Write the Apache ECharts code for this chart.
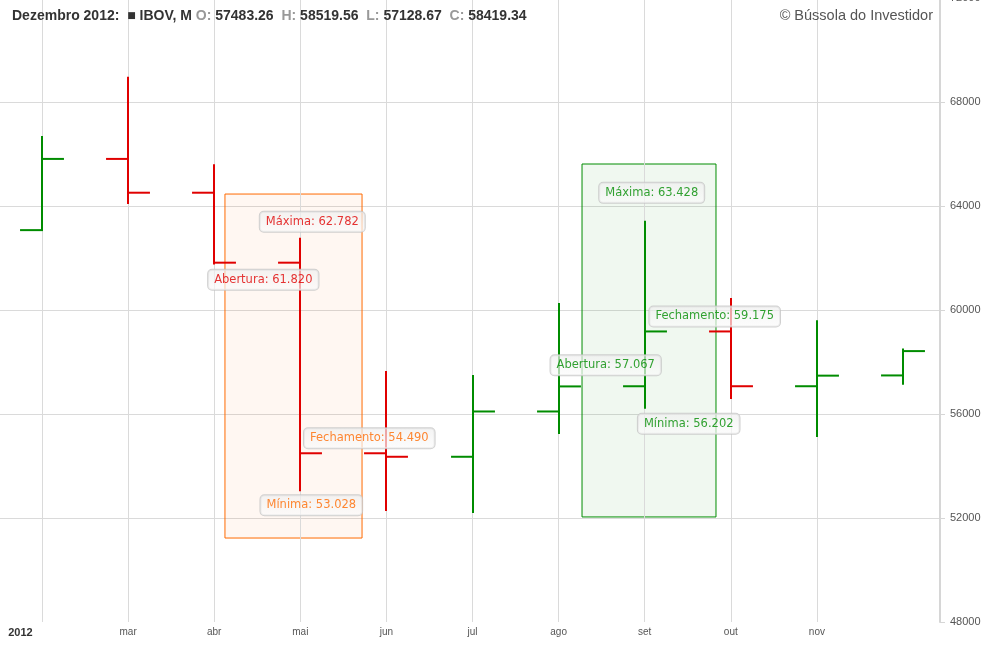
<!DOCTYPE html>
<html>
<head>
<meta charset="utf-8">
<script src="https://cdn.jsdelivr.net/npm/echarts@6/dist/echarts.min.js"></script>
<style>html,body{margin:0;padding:0;background:#fff;}#c{width:1000px;height:650px;}</style>
</head>
<body>
<div id="c"></div>
<script>
// ---- data ----
const months = ['fev','mar','abr','mai','jun','jul','ago','set','out','nov','dez'];
const openV  = [63072, 65811, 64511, 61820, 54490, 54355, 56097, 57067, 59175, 57068, 57483.26];
const highV  = [66690, 68970, 65610, 62782, 57650, 57500, 60270, 63428, 60460, 59610, 58519.56];
const lowV   = [63050, 64080, 61750, 53028, 52270, 52190, 55230, 56202, 56580, 55120, 57128.67];
const closeV = [65811, 64511, 61820, 54490, 54355, 56097, 57061, 59175, 57068, 57475, 58419.34];
const xTickValues = [-0.25, 1, 2, 3, 4, 5, 6, 7, 8, 9];
const xTickLabels = ['2012','mar','abr','mai','jun','jul','ago','set','out','nov'];
const gridXValues = [0,1,2,3,4,5,6,7,8,9];
const yTicks = [48000, 52000, 56000, 60000, 64000, 68000, 72000];
// highlight boxes: [xStart, xEnd, yLow, yHigh] in data units
const boxes = [[2.125, 3.717, 51230, 64460], [6.272, 7.828, 52040, 65615]];
// annotations: [barIndex, field, title]
const annotations = [
  [3, 'high', 'Máxima'], [3, 'open', 'Abertura'], [3, 'close', 'Fechamento'], [3, 'low', 'Mínima'],
  [7, 'high', 'Máxima'], [7, 'close', 'Fechamento'], [7, 'open', 'Abertura'], [7, 'low', 'Mínima']
];

// ---- styles ----
const GREEN = '#008c00', RED = '#e00000', ORANGE = '#ff6a00';
const annStyle = [
  {off:[12,-16], color:RED}, {off:[-37,17], color:RED}, {off:[69,-15], color:ORANGE}, {off:[11,14], color:ORANGE},
  {off:[7,-28], color:GREEN}, {off:[70,-15], color:GREEN}, {off:[-39,-21], color:GREEN}, {off:[44,15], color:GREEN}
];
const boxStyle = [
  {border: ORANGE, fill: 'rgba(255,106,0,0.05)'},
  {border: GREEN, fill: 'rgba(0,140,0,0.06)'}
];

const fields = {open: openV, high: highV, low: lowV, close: closeV};
const fmtBR = v => Math.round(v).toString().replace(/\B(?=(\d{3})+(?!\d))/g, '.');

const ohlcData = months.map((m, i) => [i, openV[i], highV[i], lowV[i], closeV[i]]);
const last = months.length - 1;

const annData = annotations.map((a, k) => {
  const v = fields[a[1]][a[0]];
  return {
    value: [a[0], v],
    label: {
      show: true, position: 'inside', offset: annStyle[k].off, color: annStyle[k].color,
      formatter: a[2] + ': ' + fmtBR(v)
    }
  };
});

const chart = echarts.init(document.getElementById('c'), null, {renderer: 'canvas'});
const f2 = v => v.toFixed(2);
chart.setOption({
  animation: false,
  backgroundColor: '#fff',
  title: [{
    left: 7, top: 4,
    text: '{b|Dezembro 2012:  }{sq|■}{b| IBOV, M }{g|O: }{b|' + f2(openV[last]) + '  }{g|H: }{b|' + f2(highV[last]) +
          '  }{g|L: }{b|' + f2(lowV[last]) + '  }{g|C: }{b|' + f2(closeV[last]) + '}',
    textStyle: {
      rich: {
        b: {fontFamily: 'Liberation Sans, Arial', fontWeight: 'bold', fontSize: 14, color: '#333'},
        g: {fontFamily: 'Liberation Sans, Arial', fontWeight: 'bold', fontSize: 14, color: '#999'},
        sq: {fontFamily: 'DejaVu Sans', fontSize: 9, color: '#333'}
      }
    }
  }, {
    right: 62, top: 3,
    text: '© Bússola do Investidor',
    textStyle: {fontFamily: 'Liberation Sans, Arial', fontWeight: 'normal', fontSize: 14.5, color: '#555'}
  }],
  grid: {left: 0, right: 60, top: -2, bottom: 28, containLabel: false, outerBoundsMode: 'none'},
  xAxis: {
    type: 'value', min: -42/86.1, max: 898/86.1,
    axisLine: {show: false}, axisTick: {show: false}, splitLine: {show: false},
    axisLabel: {
      customValues: xTickValues, margin: 5,
      fontFamily: 'Liberation Sans, Arial', fontSize: 10, color: '#555',
      formatter: v => {
        const i = xTickValues.findIndex(t => Math.abs(t - v) < 1e-6);
        if (i < 0) return '';
        return i === 0 ? '{y|' + xTickLabels[i] + '}' : xTickLabels[i];
      },
      rich: {y: {fontWeight: 'bold', color: '#333', fontSize: 11, fontFamily: 'Liberation Sans, Arial'}}
    }
  },
  yAxis: {
    type: 'value', position: 'right', min: yTicks[0], max: yTicks[yTicks.length-1], interval: 4000,
    axisLine: {show: true, onZero: false, lineStyle: {color: '#d6d6d6', width: 2}},
    axisTick: {show: true, length: 5, lineStyle: {color: '#d6d6d6'}},
    splitLine: {show: true, showMinLine: false, lineStyle: {color: '#dadada', width: 1}},
    axisLabel: {margin: 10, fontFamily: 'Liberation Sans, Arial', fontSize: 11, color: '#555',
      formatter: v => String(v), showMinLabel: true, showMaxLabel: true}
  },
  series: [
    {
      type: 'line', data: [], silent: true, z: 1,
      markLine: {
        silent: true, symbol: 'none', animation: false,
        label: {show: false},
        lineStyle: {color: '#dadada', width: 1, type: 'solid'},
        data: gridXValues.map(v => ({xAxis: v}))
      }
    },
    {
      type: 'line', data: [], silent: true, z: 2,
      markArea: {
        silent: true,
        data: boxes.map((b, i) => [
          {coord: [b[0], b[3]], itemStyle: {color: boxStyle[i].fill, borderColor: boxStyle[i].border, borderWidth: 1}},
          {coord: [b[1], b[2]]}
        ])
      }
    },
    {
      type: 'custom', z: 5, clip: false,
      data: ohlcData,
      encode: {x: 0, y: [1, 2, 3, 4]},
      renderItem: function (params, api) {
        const x = api.value(0), o = api.value(1), h = api.value(2), l = api.value(3), c = api.value(4);
        const pH = api.coord([x, h]), pL = api.coord([x, l]), pO = api.coord([x, o]), pC = api.coord([x, c]);
        const w = api.size([1, 0])[0] * 0.255;
        const col = c >= o ? GREEN : RED;
        const st = {stroke: col, lineWidth: 2};
        const px = Math.round(pH[0]);
        return {type: 'group', children: [
          {type: 'line', shape: {x1: px, y1: pH[1], x2: px, y2: pL[1]}, style: st},
          {type: 'line', shape: {x1: px - w, y1: pO[1], x2: px + 1, y2: pO[1]}, style: st},
          {type: 'line', shape: {x1: px - 1, y1: pC[1], x2: px + w, y2: pC[1]}, style: st}
        ]};
      },
      markLine: {
        silent: true, symbol: 'none', animation: false,
        lineStyle: {opacity: 0},
        label: {
          show: true, position: 'end', distance: 6,
          formatter: () => f2(closeV[last]),
          backgroundColor: '#8b0000', color: '#fff', padding: [3, 2, 2, 2], borderRadius: 3,
          fontFamily: 'Liberation Sans, Arial', fontSize: 11, fontWeight: 'bold'
        },
        data: [{yAxis: closeV[last]}]
      }
    },
    {
      type: 'scatter', z: 10, symbolSize: 0, silent: true,
      data: annData,
      label: {
        show: true,
        fontFamily: 'DejaVu Sans', fontSize: 11.5,
        backgroundColor: {
          type: 'linear', x: 0, y: 0, x2: 0, y2: 1,
          colorStops: [{offset: 0, color: 'rgba(238,238,238,0.85)'}, {offset: 1, color: 'rgba(252,252,252,0.85)'}]
        },
        borderColor: '#c4c4c4', borderWidth: 1, borderRadius: 4,
        padding: [4, 6, 4, 6]
      }
    }
  ]
});
</script>
</body>
</html>
